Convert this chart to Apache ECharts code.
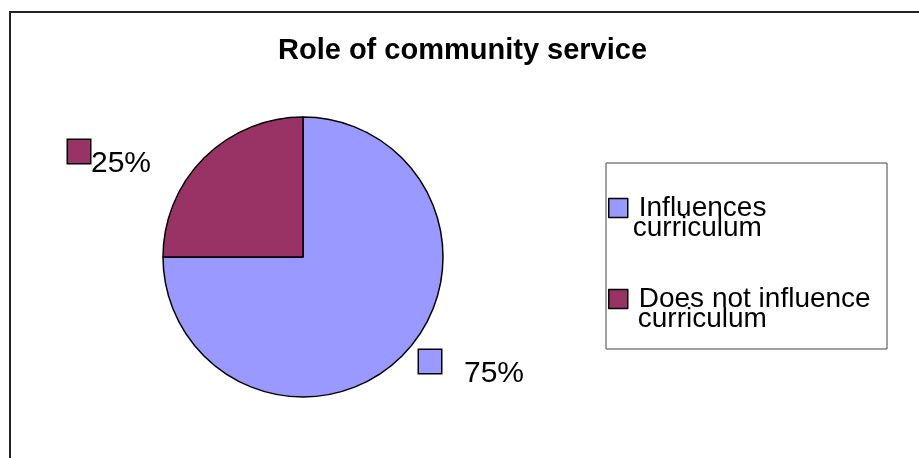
<!DOCTYPE html>
<html>
<head>
<meta charset="utf-8">
<script src="https://cdn.jsdelivr.net/npm/echarts@6/dist/echarts.min.js"></script>
<style>
  html, body { margin: 0; padding: 0; background: #fff; }
  #chart { width: 919px; height: 458px; }
</style>
</head>
<body>
<div id="chart"></div>
<script>
const categories = ['Influences curriculum', 'Does not influence curriculum'];
const shares = [75, 25];
const colors = ['#9999ff', '#993366'];

const FONT = '"Liberation Sans", Arial, sans-serif';

const chart = echarts.init(document.getElementById('chart'));

// legend names break onto two lines like the original
function legendText(name) {
  const i = name.lastIndexOf(' ');
  const first = name.slice(0, i);
  const second = name.slice(i + 1);
  const tail = categories.indexOf(name) === 0 ? 'b1' : 'b2';
  return '{e| }\n{a|' + first + '}\n{' + tail + '|' + second + '}';
}

// where each slice's percentage label sits
const labelSpots = [
  { x: 419, y: 350, gap: 23 },
  { x: 68, y: 140, gap: 1 }
];

const option = {
  animation: false,
  backgroundColor: '#fff',
  title: {
    text: 'Role of community service',
    left: 273,
    top: 31,
    textStyle: { fontFamily: FONT, fontSize: 29, fontWeight: 'bold', color: '#000' }
  },
  graphic: [
    {
      type: 'rect',
      shape: { x: 10, y: 12, width: 1000, height: 1000 },
      style: { fill: 'none', stroke: '#222', lineWidth: 2 },
      silent: true
    },
    {
      type: 'rect',
      shape: { x: 606, y: 163, width: 281, height: 186 },
      style: { fill: 'none', stroke: '#444', lineWidth: 1 },
      silent: true
    }
  ],
  legend: {
    orient: 'vertical',
    left: 608,
    top: 183,
    padding: 0,
    itemWidth: 19,
    itemHeight: 19,
    itemGap: 32,
    icon: 'rect',
    selectedMode: false,
    data: categories,
    itemStyle: { borderColor: '#000', borderWidth: 1.5 },
    formatter: legendText,
    textStyle: {
      fontFamily: FONT,
      color: '#000',
      rich: {
        e: { fontSize: 10, lineHeight: 20 },
        a: { fontFamily: FONT, fontSize: 28, lineHeight: 20, padding: [0, 0, 0, 6], color: '#000' },
        b1: { fontFamily: FONT, fontSize: 28, lineHeight: 20, padding: [0, 0, 0, 0], color: '#000' },
        b2: { fontFamily: FONT, fontSize: 28, lineHeight: 20, padding: [0, 0, 0, 5], color: '#000' }
      }
    }
  },
  series: [
    {
      type: 'pie',
      center: [303, 257],
      radius: [0, 140],
      startAngle: 90,
      clockwise: true,
      itemStyle: { borderColor: '#000', borderWidth: 1.5 },
      emphasis: { disabled: true },
      labelLine: { show: false },
      label: {
        show: true,
        position: 'outside',
        formatter: function (p) {
          return '{sq' + p.dataIndex + '|}{v' + p.dataIndex + '|' + p.value + '%}';
        },
        rich: {
          sq0: { width: 22, height: 23, backgroundColor: colors[0], borderColor: '#000', borderWidth: 1.5, verticalAlign: 'top' },
          sq1: { width: 22, height: 23, backgroundColor: colors[1], borderColor: '#000', borderWidth: 1.5, verticalAlign: 'top' },
          v0: { fontFamily: FONT, fontSize: 30, lineHeight: 30, color: '#000', padding: [9, 0, 0, labelSpots[0].gap], verticalAlign: 'top' },
          v1: { fontFamily: FONT, fontSize: 30, lineHeight: 30, color: '#000', padding: [9, 0, 0, labelSpots[1].gap], verticalAlign: 'top' }
        }
      },
      labelLayout: function (params) {
        const s = labelSpots[params.dataIndex];
        return { x: s.x, y: s.y, align: 'left', verticalAlign: 'top' };
      },
      data: categories.map(function (c, i) {
        return { name: c, value: shares[i], itemStyle: { color: colors[i] } };
      })
    }
  ]
};

chart.setOption(option);
</script>
</body>
</html>
